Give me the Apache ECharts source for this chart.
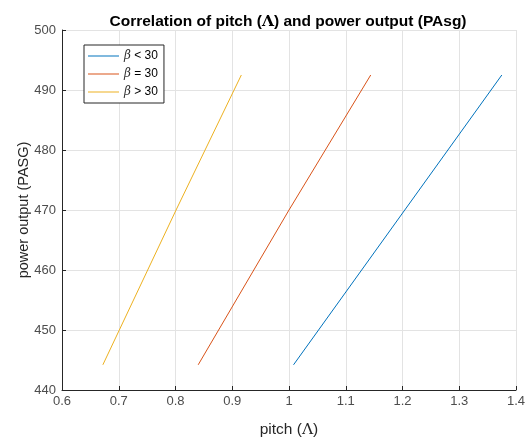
<!DOCTYPE html>
<html>
<head>
<meta charset="utf-8">
<script src="https://cdn.jsdelivr.net/npm/echarts@6/dist/echarts.min.js"></script>
<style>
  html, body { margin: 0; padding: 0; background: #fff; }
  #main { width: 526px; height: 437px; }
</style>
</head>
<body>
<div id="main"></div>
<script>
// pitch values (start, middle, end of each line)
var pitchLow = [1.008, 1.204, 1.375];   // beta < 30
var pitchMid = [0.840, 1.000, 1.144];   // beta = 30
var pitchHigh = [0.672, 0.801, 0.916];  // beta > 30
var power = [444.2, 470, 492.5];
var seriesNames = ['β < 30', 'β = 30', 'β > 30'];
var colors = ['#0072BD', '#D95319', '#EDB120'];

function pairs(xs, ys) {
  var out = [];
  for (var i = 0; i < xs.length; i++) out.push([xs[i], ys[i]]);
  return out;
}

var chart = echarts.init(document.getElementById('main'));
var font = '"Liberation Sans", Arial, Helvetica, sans-serif';
var serif = '"DejaVu Serif", "Liberation Serif", serif';
var axisColor = '#262626';

var lineData = [pitchLow, pitchMid, pitchHigh];
var series = [];
for (var k = 0; k < 3; k++) {
  series.push({
    name: seriesNames[k],
    type: 'line',
    data: pairs(lineData[k], power),
    symbol: 'none',
    lineStyle: { color: colors[k], width: 1 },
    itemStyle: { color: colors[k] },
    animation: false
  });
}

var option = {
  backgroundColor: '#fff',
  textStyle: { fontFamily: font },
  title: {
    text: 'Correlation of pitch ({s|Λ}) and power output (PAsg)',
    left: 283,
    textAlign: 'center',
    top: 9,
    textStyle: {
      fontSize: 15.5, fontWeight: 'bold', color: '#000', fontFamily: font,
      rich: { s: { fontSize: 15.5, fontFamily: serif, color: '#000' } }
    }
  },
  legend: {
    orient: 'vertical',
    left: 84,
    top: 45,
    backgroundColor: '#fff',
    borderColor: axisColor,
    borderWidth: 1,
    padding: [5, 6, 5, 4],
    icon: 'rect',
    itemWidth: 31,
    itemHeight: 1,
    itemGap: 6,
    data: seriesNames,
    formatter: function (name) {
      return '{b|β}{t|' + name.slice(1) + '}';
    },
    textStyle: {
      fontSize: 12,
      color: '#000',
      fontFamily: font,
      rich: {
        b: { fontStyle: 'italic', fontFamily: serif, fontSize: 12, color: '#333', height: 14 },
        t: { fontSize: 12, fontFamily: font, color: '#000', height: 14 }
      }
    }
  },
  grid: { left: 62, top: 30, width: 454, height: 360, outerBoundsMode: 'none', containLabel: false },
  xAxis: {
    type: 'value',
    min: 0.6,
    max: 1.4,
    interval: 0.1,
    name: 'pitch ({s|Λ})',
    nameLocation: 'middle',
    nameGap: 32,
    nameTextStyle: {
      fontSize: 15.5, color: '#262626', fontFamily: font,
      rich: { s: { fontSize: 15.5, fontFamily: serif, color: '#262626' } }
    },
    axisLine: { lineStyle: { color: axisColor, width: 1 } },
    axisTick: { inside: true, length: 4, lineStyle: { color: axisColor } },
    axisLabel: {
      fontSize: 13, color: '#4d4d4d', margin: 5,
      formatter: function (v) { return String(+v.toFixed(1)); }
    },
    splitLine: { show: true, lineStyle: { color: '#e3e3e3', width: 1 } }
  },
  yAxis: {
    type: 'value',
    min: 440,
    max: 500,
    interval: 10,
    name: 'power output (PASG)',
    nameLocation: 'middle',
    nameGap: 31,
    nameMoveOverlap: false,
    nameTextStyle: { fontSize: 14.5, color: '#262626', fontFamily: font },
    axisLine: { show: true, lineStyle: { color: axisColor, width: 1 } },
    axisTick: { show: true, inside: true, length: 4, lineStyle: { color: axisColor } },
    axisLabel: { fontSize: 13, color: '#4d4d4d', margin: 6 },
    splitLine: { show: true, lineStyle: { color: '#e3e3e3', width: 1 } }
  },
  series: series
};
chart.setOption(option);
</script>
</body>
</html>
